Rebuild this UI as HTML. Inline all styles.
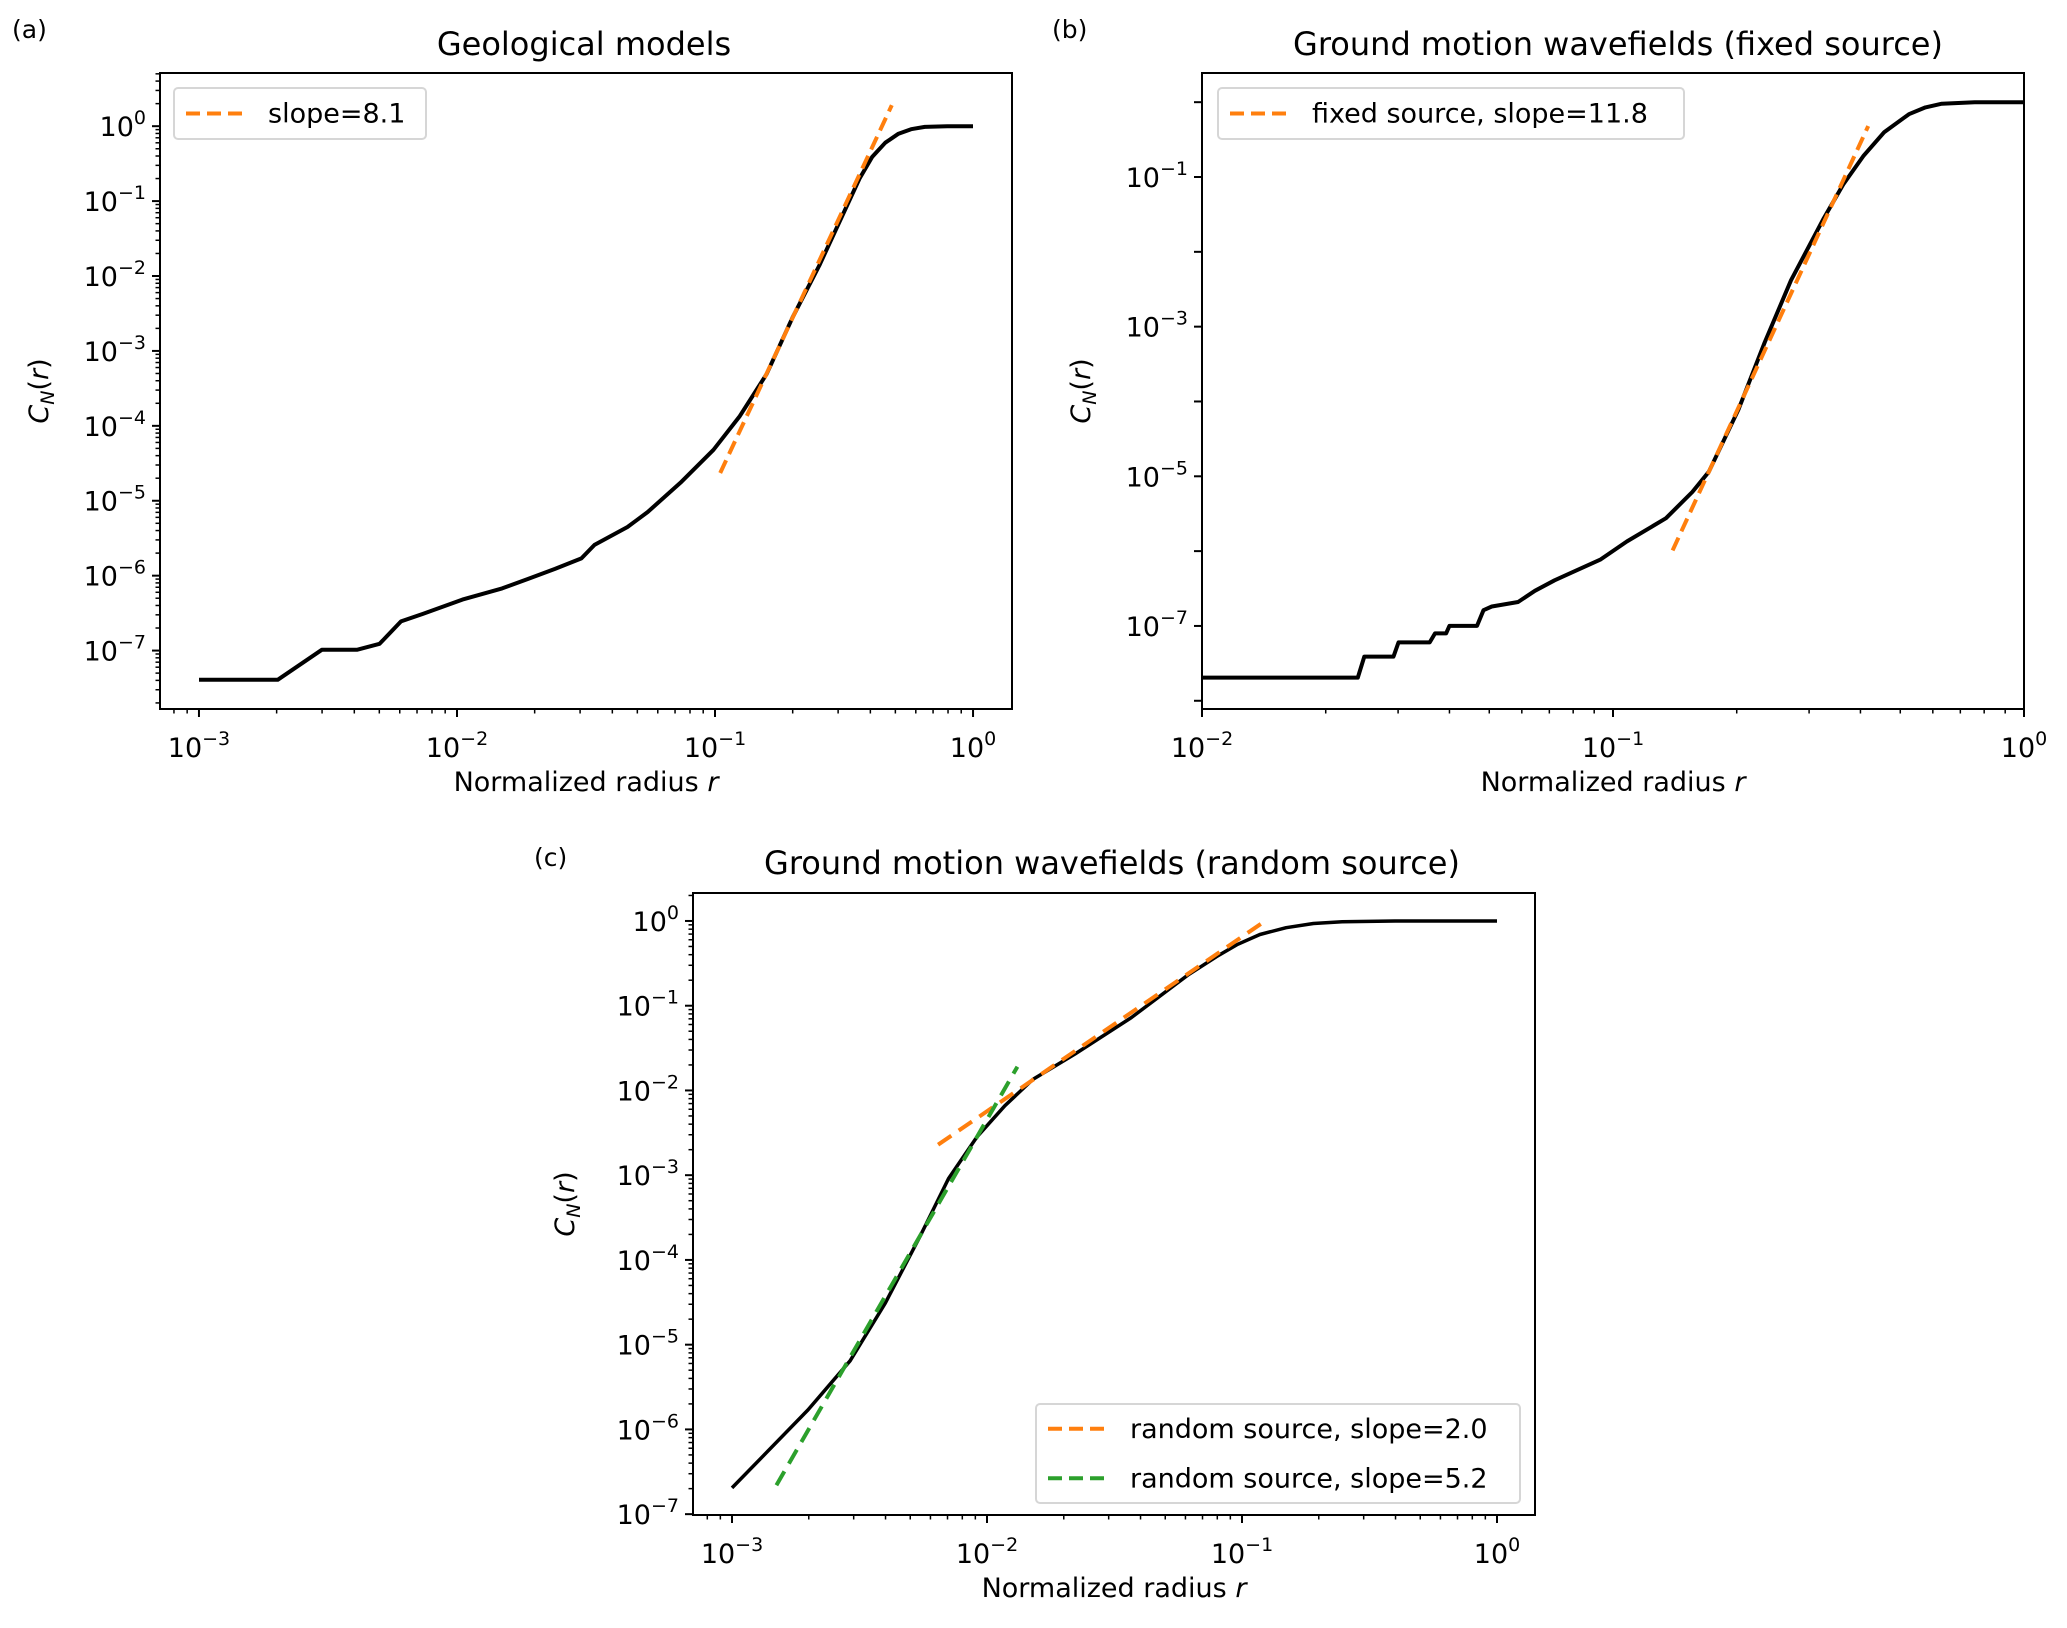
<!DOCTYPE html>
<html><head><meta charset="utf-8"><style>
body{margin:0;background:#fff}
svg{display:block;font-family:"DejaVu Sans","Liberation Sans",sans-serif}
</style></head><body>
<svg id="fig" width="2067" height="1628" viewBox="0 0 2067 1628" xmlns="http://www.w3.org/2000/svg">
<rect width="2067" height="1628" fill="#fff"/>
</svg>
<script>
// Panel (a) data (log10 values)
const aCurveLogX=[-3,-2.695,-2.524,-2.388,-2.30,-2.217,-2.132,-1.979,-1.825,-1.723,-1.62,-1.518,-1.467,-1.339,-1.261,-1.134,-1.006,-0.904,-0.80,-0.699,-0.596,-0.494,-0.44,-0.391,-0.34,-0.289,-0.24,-0.187,-0.1,0];
const aCurveLogY=[-7.39,-7.39,-6.99,-6.99,-6.91,-6.61,-6.51,-6.32,-6.17,-6.04,-5.91,-5.77,-5.59,-5.35,-5.15,-4.76,-4.32,-3.87,-3.31,-2.55,-1.86,-1.10,-0.70,-0.41,-0.22,-0.10,-0.04,-0.01,0,0];
const aFitLogX=[-0.98,-0.315];
const aFitLogY=[-4.63,0.28];
// Panel (b)
const bCurveLogX=[-2,-1.621,-1.605,-1.534,-1.522,-1.446,-1.433,-1.406,-1.398,-1.331,-1.315,-1.295,-1.231,-1.19,-1.142,-1.102,-1.03,-0.966,-0.871,-0.807,-0.767,-0.695,-0.631,-0.567,-0.487,-0.44,-0.391,-0.34,-0.28,-0.24,-0.2,-0.12,0];
const bCurveLogY=[-7.69,-7.69,-7.41,-7.41,-7.22,-7.22,-7.10,-7.10,-7.0,-7.0,-6.79,-6.74,-6.68,-6.53,-6.39,-6.29,-6.11,-5.87,-5.56,-5.21,-4.94,-4.11,-3.21,-2.38,-1.55,-1.10,-0.72,-0.40,-0.16,-0.07,-0.02,0,0];
const bFitLogX=[-0.855,-0.379];
const bFitLogY=[-5.99,-0.32];
// Panel (c)
const cCurveLogX=[-3,-2.702,-2.537,-2.399,-2.261,-2.151,-2.04,-1.93,-1.82,-1.655,-1.434,-1.213,-1.10,-1.02,-0.93,-0.827,-0.72,-0.607,-0.4,0];
const cCurveLogY=[-6.69,-5.77,-5.19,-4.51,-3.71,-3.04,-2.55,-2.18,-1.87,-1.57,-1.14,-0.64,-0.42,-0.28,-0.16,-0.08,-0.03,-0.01,0,0];
const cFit1LogX=[-2.192,-0.924];
const cFit1LogY=[-2.64,-0.03];
const cFit2LogX=[-2.826,-1.881];
const cFit2LogY=[-6.66,-1.72];
const aXTicks=[-3,-2,-1,0], aYTicks=[0,-1,-2,-3,-4,-5,-6,-7];
const bXTicks=[-2,-1,0], bYTicks=[-1,-3,-5,-7];
const cXTicks=[-3,-2,-1,0], cYTicks=[0,-1,-2,-3,-4,-5,-6,-7];

const NS="http://www.w3.org/2000/svg";
const svg=document.getElementById('fig');
function mk(tag,attrs,parent){const e=document.createElementNS(NS,tag);for(const k in attrs)e.setAttribute(k,attrs[k]);(parent||svg).appendChild(e);return e;}

function panel(p){
  const g=mk('g',{});
  
  
  const sx=v=>p.L+(v-p.x0)/(p.x1-p.x0)*(p.R-p.L);
  const sy=v=>p.B-(v-p.y0)/(p.y1-p.y0)*(p.B-p.T);
  for(let d=Math.floor(p.x0);d<=Math.ceil(p.x1);d++){
    for(let m=1;m<10;m++){
      const v=d+Math.log10(m); if(v<p.x0||v>p.x1) continue;
      const x=sx(v);
      const t=mk('line',{x1:x,x2:x,y1:p.B,y2:p.B+(m==1?8:4.5),stroke:'#000','stroke-width':m==1?2:1.5},g);
      
      
    }
  }
  p.xt.forEach(v=>{
    const t=mk('text',{x:sx(v),y:p.B+48,'text-anchor':'middle','font-size':27},g);
    
    
    t.innerHTML='10<tspan dy="-12" font-size="19">'+(v<0?'\u2212'+(-v):v)+'</tspan>';
  });
  for(let d=Math.floor(p.y0);d<=Math.ceil(p.y1);d++){
    for(let m=1;m<10;m++){
      if(m>1&&!p.yminor) continue;
      const v=d+Math.log10(m); if(v<p.y0||v>p.y1) continue;
      const y=sy(v);
      const t=mk('line',{x1:p.L,x2:p.L-(m==1?8:4.5),y1:y,y2:y,stroke:'#000','stroke-width':m==1?2:1.5},g);
      
      
    }
  }
  p.yt.forEach(v=>{
    const t=mk('text',{x:p.L-14,y:sy(v)+10,'text-anchor':'end','font-size':27},g);
    
    
    t.innerHTML='10<tspan dy="-12" font-size="19">'+(v<0?'\u2212'+(-v):v)+'</tspan>';
  });
  const clip=mk('clipPath',{id:'clip'+p.id},g);
  mk('rect',{x:p.L,y:p.T,width:p.R-p.L,height:p.B-p.T},clip);
  const pg=mk('g',{'clip-path':'url(#clip'+p.id+')'},g);
  p.series.forEach(s=>{
    const d=s.x.map((v,i)=>(i?'L':'M')+sx(v).toFixed(1)+','+sy(s.y[i]).toFixed(1)).join('');
    const e=mk('path',{d:d,fill:'none',stroke:s.c,'stroke-width':s.w,'stroke-dasharray':s.dash||'none','stroke-linejoin':'round'},pg);
    
    
  });
  const fr=mk('rect',{x:p.L,y:p.T,width:p.R-p.L,height:p.B-p.T,fill:'none',stroke:'#000','stroke-width':2},g);
  
  
  const tt=mk('text',{x:p.tx,y:p.ty,'text-anchor':'middle','font-size':32},g);
  
  
  tt.textContent=p.title;
  const pl=mk('text',{x:p.lx,y:p.ly,'font-size':25},g);
  
  
  pl.textContent=p.label;
  const xl=mk('text',{x:(p.L+p.R)/2,y:p.B+82,'text-anchor':'middle','font-size':27},g);
  
  
  xl.innerHTML='Normalized radius <tspan font-style="italic">r</tspan>';
  const yl=mk('text',{x:p.ylx,y:(p.T+p.B)/2,'text-anchor':'middle','font-size':27,transform:'rotate(-90 '+p.ylx+' '+((p.T+p.B)/2)+')'},g);
  
  
  yl.innerHTML='<tspan font-style="italic">C</tspan><tspan font-style="italic" font-size="19" dy="6">N</tspan><tspan dy="-6">(</tspan><tspan font-style="italic">r</tspan>)';
  const lg=mk('g',{},g);
  
  
  mk('rect',{x:p.leg.x,y:p.leg.y,width:p.leg.w,height:p.leg.h,rx:4,fill:'#fff',stroke:'#d6d6d6','stroke-width':2},lg);
  p.leg.items.forEach((it,i)=>{
    const y=p.leg.y+p.leg.h/(2*p.leg.items.length)*(2*i+1);
    const ent=mk('g',{},lg);
    
    
    mk('line',{x1:p.leg.x+12,x2:p.leg.x+70,y1:y,y2:y,stroke:it.c,'stroke-width':4,'stroke-dasharray':'14 7'},ent);
    const t=mk('text',{x:p.leg.x+94,y:y+9,'font-size':27},ent);
    t.textContent=it.t;
  });
}
const OR='#ff7f0e', GR='#2ca02c';
panel({id:'a',name:'panel-a',L:160,R:1012,T:73,B:709,x0:-3.151,x1:0.151,y0:-7.78,y1:0.71,xt:aXTicks,yt:aYTicks,yminor:true,
  tx:584,ty:55,title:'Geological models',lx:12,ly:38,label:'(a)',ylx:48,
  series:[{n:'curve-geological',x:aCurveLogX,y:aCurveLogY,c:'#000',w:4},{n:'fit-line-slope-8.1',x:aFitLogX,y:aFitLogY,c:OR,w:4,dash:'14 7'}],
  leg:{x:174,y:88,w:252,h:51,items:[{c:OR,t:'slope=8.1'}]}});
panel({id:'b',name:'panel-b',L:1202,R:2024,T:73,B:709,x0:-2,x1:0,y0:-8.11,y1:0.39,xt:bXTicks,yt:bYTicks,yminor:false,
  tx:1618,ty:55,title:'Ground motion wavefields (fixed source)',lx:1052,ly:38,label:'(b)',ylx:1090,
  series:[{n:'curve-fixed-source',x:bCurveLogX,y:bCurveLogY,c:'#000',w:4},{n:'fit-line-slope-11.8',x:bFitLogX,y:bFitLogY,c:OR,w:4,dash:'14 7'}],
  leg:{x:1218,y:88,w:466,h:51,items:[{c:OR,t:'fixed source, slope=11.8'}]}});
panel({id:'c',name:'panel-c',L:693,R:1535,T:893,B:1515,x0:-3.153,x1:0.149,y0:-7.01,y1:0.33,xt:cXTicks,yt:cYTicks,yminor:true,
  tx:1112,ty:874,title:'Ground motion wavefields (random source)',lx:534,ly:866,label:'(c)',ylx:574,
  series:[{n:'curve-random-source',x:cCurveLogX,y:cCurveLogY,c:'#000',w:3.5},{n:'fit-line-slope-2.0',x:cFit1LogX,y:cFit1LogY,c:OR,w:4,dash:'16 9'},{n:'fit-line-slope-5.2',x:cFit2LogX,y:cFit2LogY,c:GR,w:4,dash:'16 9'}],
  leg:{x:1036,y:1404,w:484,h:99,items:[{c:OR,t:'random source, slope=2.0'},{c:GR,t:'random source, slope=5.2'}]}});
</script>
</body></html>
